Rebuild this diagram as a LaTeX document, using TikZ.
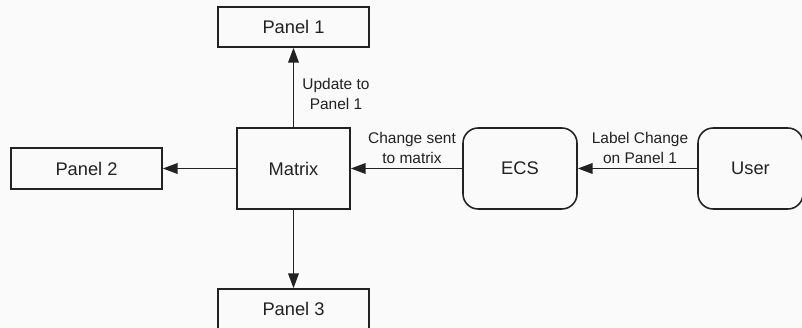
\documentclass[tikz,border=0pt]{standalone}
\usepackage{fontspec}
\setmainfont{Liberation Sans}
\usetikzlibrary{arrows.meta}
\definecolor{ink}{HTML}{222222}
\begin{document}
\begin{tikzpicture}[x=0.025cm,y=-0.025cm,
  box/.style={draw=ink,line width=1.1pt,inner sep=0pt,text=ink,font=\fontsize{13}{15}\selectfont},
  rbox/.style={box,rounded corners=0.38cm},
  lbl/.style={align=center,text=ink,font=\fontsize{11}{14}\selectfont,inner sep=0pt},
  conn/.style={draw=ink,line width=1.1pt,-{Triangle[length=10.5pt,width=7.5pt]}}]
\fill[white!98!black] (0,0) rectangle (802,328);
\useasboundingbox (0,0) rectangle (802,328);
\node[box,minimum width=3.775cm,minimum height=1.0cm] (p1) at (293.5,27) {Panel 1};
\node[box,minimum width=3.775cm,minimum height=1.025cm] (p2) at (86.5,168.5) {Panel 2};
\node[box,minimum width=3.775cm,minimum height=1.0cm] (p3) at (293.5,309) {Panel 3};
\node[box,minimum width=2.825cm,minimum height=2.025cm] (mx) at (293.5,168.5) {Matrix};
\node[rbox,minimum width=2.85cm,minimum height=2.025cm] (ecs) at (520,168.5) {ECS};
\node[rbox,minimum width=2.625cm,minimum height=2.025cm] (user) at (750.5,168.5) {User};
\draw[conn] (mx) -- (p1);
\draw[conn] (mx) -- (p2);
\draw[conn] (mx) -- (p3);
\draw[conn] (ecs) -- (mx);
\draw[conn] (user) -- (ecs);
\node[lbl] (l1) at (336,94) {Update to\\Panel 1};
\node[lbl] (l2) at (412,148) {Change sent\\to matrix};
\node[lbl] (l3) at (640,148) {Label Change\\on Panel 1};
\end{tikzpicture}
\end{document}
